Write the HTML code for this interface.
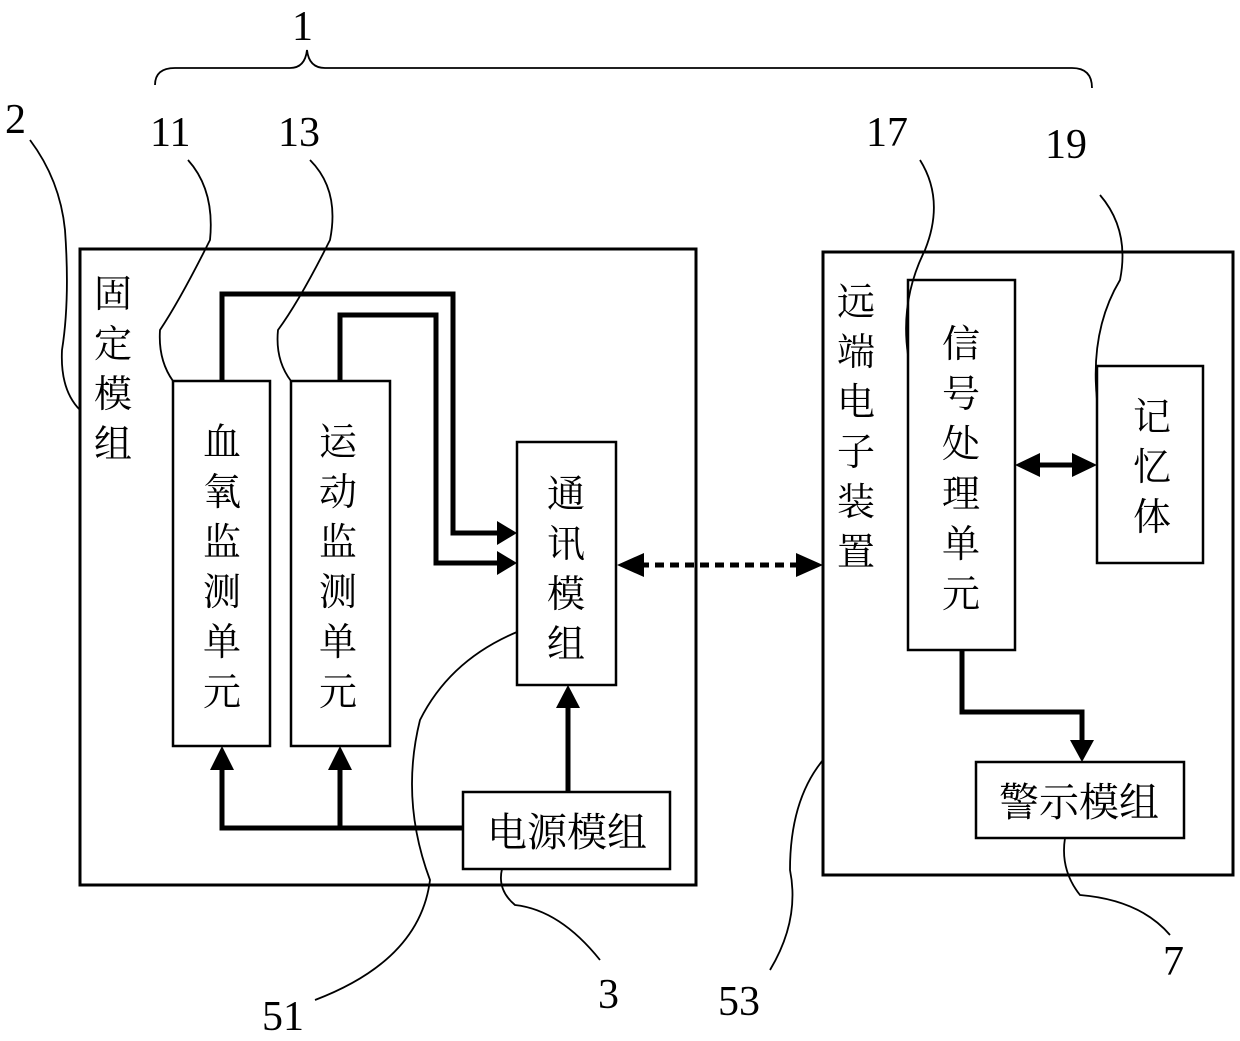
<!DOCTYPE html>
<html><head><meta charset="utf-8"><style>
body{margin:0;background:#fff;}
svg{display:block}
text{font-family:"Liberation Serif","Noto Serif CJK SC",serif;fill:#000}
.c{font-size:38px}
.h{font-size:40px}
.n{font-size:42px}
</style></head><body>
<svg width="1240" height="1041" viewBox="0 0 1240 1041" xmlns="http://www.w3.org/2000/svg">
<g fill="none" stroke="#000" stroke-width="3">
<rect x="80" y="249" width="616" height="636"/>
<rect x="823" y="252" width="410" height="623"/>
</g>
<g fill="none" stroke="#000" stroke-width="2.5">
<rect x="173" y="381" width="97" height="365"/>
<rect x="291" y="381" width="99" height="365"/>
<rect x="517" y="442" width="99" height="243"/>
<rect x="463" y="792" width="207" height="77"/>
<rect x="908" y="280" width="107" height="370"/>
<rect x="1097" y="366" width="106" height="197"/>
<rect x="976" y="762" width="208" height="76"/>
</g>
<g fill="none" stroke="#000" stroke-width="5">
<polyline points="222,381 222,294 453,294 453,533 497,533"/>
<polyline points="340,381 340,315 436,315 436,563 497,563"/>
<polyline points="463,828 222,828 222,770"/>
<line x1="340" y1="828" x2="340" y2="770"/>
<line x1="568" y1="792" x2="568" y2="708"/>
<polyline points="962,650 962,712 1082,712 1082,740"/>
<line x1="640" y1="565" x2="800" y2="565" stroke-dasharray="9,6"/>
<line x1="1038" y1="465" x2="1074" y2="465"/>
</g>
<g fill="#000">
<path d="M497,521L517,533L497,545z"/>
<path d="M497,551L517,563L497,575z"/>
<path d="M210,770L222,746L234,770z"/>
<path d="M328,770L340,746L352,770z"/>
<path d="M556,708L568,685L580,708z"/>
<path d="M1070,740L1082,762L1094,740z"/>
<path d="M617,565L644,553L644,577z"/>
<path d="M823,565L796,553L796,577z"/>
<path d="M1015,465L1040,453L1040,477z"/>
<path d="M1097,465L1072,453L1072,477z"/>
</g>
<g fill="none" stroke="#000" stroke-width="1.8">
<path d="M155,85 Q155,68 175,68 L290,68 Q305,68 307,50 Q309,68 325,68 L1072,68 Q1092,68 1092,88"/>
<path d="M30,140 Q60,180 65,230 Q70,300 62,350 Q60,390 80,410"/>
<path d="M188,160 Q215,190 210,240 Q180,300 160,330 Q158,360 173,381"/>
<path d="M310,160 Q340,190 330,240 Q300,300 278,330 Q275,360 291,381"/>
<path d="M920,160 Q945,200 925,250 Q900,300 908,355"/>
<path d="M1100,195 Q1130,230 1120,280 Q1090,330 1097,400"/>
<path d="M517,632 Q450,660 420,720 Q400,800 430,880 Q420,960 315,1000"/>
<path d="M502,869 Q497,890 515,905 Q560,910 600,960"/>
<path d="M823,760 Q790,800 790,870 Q800,920 770,970"/>
<path d="M1065,838 Q1060,870 1080,895 Q1140,900 1170,935"/>
</g>
<text class="n" x="292" y="40">1</text>
<text class="n" x="5" y="133">2</text>
<text class="n" x="150" y="146">11</text>
<text class="n" x="278" y="146">13</text>
<text class="n" x="866" y="146">17</text>
<text class="n" x="1045" y="158">19</text>
<text class="n" x="262" y="1030">51</text>
<text class="n" x="598" y="1008">3</text>
<text class="n" x="718" y="1015">53</text>
<text class="n" x="1163" y="975">7</text>
<g class="c">
<text x="94" y="307">固</text><text x="94" y="357">定</text><text x="94" y="407">模</text><text x="94" y="457">组</text>
<text x="203" y="455">血</text><text x="203" y="505">氧</text><text x="203" y="555">监</text><text x="203" y="605">测</text><text x="203" y="655">单</text><text x="203" y="705">元</text>
<text x="319" y="455">运</text><text x="319" y="505">动</text><text x="319" y="555">监</text><text x="319" y="605">测</text><text x="319" y="655">单</text><text x="319" y="705">元</text>
<text x="547" y="507">通</text><text x="547" y="557">讯</text><text x="547" y="607">模</text><text x="547" y="657">组</text>
<text x="837" y="315">远</text><text x="837" y="365">端</text><text x="837" y="415">电</text><text x="837" y="465">子</text><text x="837" y="515">装</text><text x="837" y="565">置</text>
<text x="942" y="357">信</text><text x="942" y="407">号</text><text x="942" y="457">处</text><text x="942" y="507">理</text><text x="942" y="557">单</text><text x="942" y="607">元</text>
<text x="1133" y="430">记</text><text x="1133" y="480">忆</text><text x="1133" y="530">体</text>
</g>
<g class="h">
<text x="487" y="846">电源模组</text>
<text x="999" y="816">警示模组</text>
</g>
</svg>
</body></html>
